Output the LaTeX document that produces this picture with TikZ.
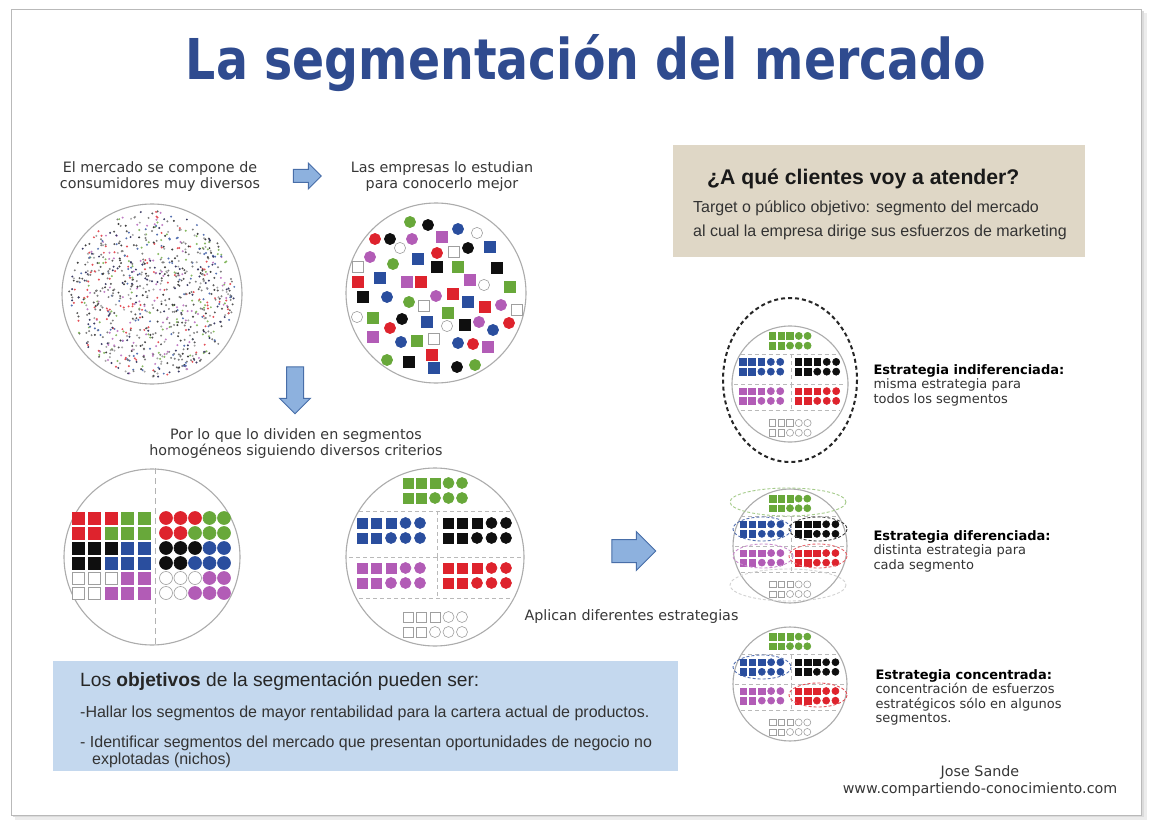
\documentclass[tikz,border=0pt]{standalone}
\usepackage{fontspec}
\usepackage{graphicx}
\setmainfont{DejaVu Sans}
\newfontfamily\arialf{Liberation Sans}
\usetikzlibrary{shapes.arrows}
\definecolor{segR}{RGB}{222,35,45}
\definecolor{segG}{RGB}{104,168,58}
\definecolor{segB}{RGB}{42,78,158}
\definecolor{segM}{RGB}{178,92,182}
\definecolor{segK}{RGB}{15,15,15}
\definecolor{segW}{RGB}{255,255,255}
\colorlet{segdR}{segR}
\colorlet{segdG}{segG}
\colorlet{segdB}{segB}
\colorlet{segdM}{segM}
\colorlet{segdK}{segK}
\colorlet{segdW}{gray!75}
\definecolor{titleblue}{RGB}{47,75,143}
\definecolor{arrowfill}{RGB}{141,177,222}
\definecolor{arrowdraw}{RGB}{72,110,168}
\definecolor{beige}{RGB}{223,215,198}
\definecolor{lightblue}{RGB}{196,216,238}
\definecolor{txt}{RGB}{55,55,55}
\colorlet{dot0}{black!75}
\definecolor{dot1}{RGB}{60,60,100}
\colorlet{dot2}{gray}
\colorlet{dot3}{segR!80}
\colorlet{dot4}{segG!80}
\colorlet{dot5}{segM!80}
\colorlet{dot6}{segB!80}
\colorlet{dot7}{black!50}
\colorlet{dot8}{black!65}
\colorlet{dot9}{gray!70}
\tikzset{
  cell/.style={fill=seg#1, draw=segd#1, line width=0.6pt},
  bigcircle/.style={circle, draw=gray!65, line width=1.1pt, inner sep=0pt},
  lbl/.style={font=\fontsize{14.3}{16}\selectfont, text=txt, align=center},
  blockarrow/.style={single arrow, draw=arrowdraw, fill=arrowfill, line width=1pt, single arrow head indent=0pt},
  sepline/.style={draw=gray!55, line width=0.8pt, dash pattern=on 4pt off 3pt},
  strtxt/.style={anchor=north west, align=left, text=gray!40!black, font=\fontsize{13}{14.5}\selectfont},
}
\newcommand\Sq[3]{\path[cell=#1] (#2,#3) +(-5.3,-5.3) rectangle +(5.3,5.3);}
\newcommand\Ci[3]{\path[cell=#1] (#2,#3) circle (5.6);}
\newcommand\grp[4]{%
  \foreach \qq in {0,1,2}{\path[cell=#1] ({#2+\qq*#4},#3) +(-5,-5) rectangle +(5,5);}%
  \foreach \qq in {3,4}{\path[cell=#1] ({#2+\qq*#4},#3) circle (5.5);}%
  \foreach \qq in {0,1}{\path[cell=#1] ({#2+\qq*#4},{#3+15}) +(-5,-5) rectangle +(5,5);}%
  \foreach \qq in {2,3,4}{\path[cell=#1] ({#2+\qq*#4},{#3+15}) circle (5.5);}%
}
\newcommand\segcontent{%
  \grp{G}{-27}{-74}{13.5}
  \grp{B}{-73}{-34}{14.5}
  \grp{K}{13}{-34}{14.5}
  \grp{M}{-73}{11}{14.5}
  \grp{R}{13}{11}{14.5}
  \grp{W}{-27}{60}{13.5}
  \draw[sepline] (-76,-46) -- (76,-46);
  \draw[sepline] (2,-46) -- (2,0);
  \draw[sepline] (-86,0) -- (86,0);
  \draw[sepline] (2,0) -- (2,41);
  \draw[sepline] (-76,41) -- (76,41);
}
\newcommand\sqrow[2]{\foreach \cl [count=\qq from 0] in {#2}{\path[cell=\cl] ({78+\qq*16.5},#1) +(-6,-6) rectangle +(6,6);}}
\newcommand\cirow[2]{\foreach \cl [count=\qq from 0] in {#2}{\path[cell=\cl] ({166+\qq*14.5},#1) circle (6.5);}}

\begin{document}
\begin{tikzpicture}[x=1pt,y=-1pt]
\useasboundingbox (0,0) rectangle (1151,821);
\fill[white] (0,0) rectangle (1151,821);
% page with shadow
\fill[gray!15] (15,13) rectangle (1147,820);
\fill[gray!28] (13,11) rectangle (1144,817);
\draw[gray!55, fill=white, line width=0.8pt] (11,9) rectangle (1141,815);

% title
\node[anchor=base, text=titleblue, inner sep=0pt] (title) at (586,80)
  {\resizebox{800pt}{45pt}{\bfseries La segmentación del mercado}};

% top labels and arrows
\node[lbl] (t1) at (160,177) {El mercado se compone de\\consumidores muy diversos};
\node[lbl] (t2) at (442,177) {Las empresas lo estudian\\para conocerlo mejor};
\node[blockarrow, minimum height=28pt, inner sep=6pt, single arrow head extend=6.5pt] (a1) at (304,176) {};

% circle 1: random consumers
\node[bigcircle, minimum size=180pt] (c1) at (152,294) {};
\pgfmathsetseed{4242}
\foreach \i in {1,...,900}{
  \pgfmathsetmacro\rr{83*sqrt(rnd)}
  \pgfmathsetmacro\aa{360*rnd}
  \pgfmathtruncatemacro\cc{floor(10*rnd)}
  \fill[dot\cc] (c1.center) ++(\aa:\rr) circle (1.1);
}

% circle 2: scattered shapes
\node[bigcircle, minimum size=180pt] (c2) at (436,293) {};
\Ci{G}{410}{222} \Ci{K}{428}{225} \Ci{B}{458}{229} \Ci{W}{477}{233}
\Ci{R}{375}{239} \Ci{K}{390}{239} \Ci{M}{412}{239} \Sq{M}{442}{237}
\Ci{W}{400}{248} \Ci{R}{437}{253} \Sq{W}{454}{252} \Ci{K}{468}{248} \Sq{B}{490}{247}
\Ci{M}{370}{257} \Ci{G}{393}{264} \Sq{B}{418}{259}
\Sq{W}{358}{267} \Sq{K}{437}{267} \Sq{G}{458}{267} \Sq{K}{497}{268}
\Sq{R}{358}{282} \Sq{B}{380}{278} \Sq{M}{407}{282} \Sq{R}{421}{282} \Sq{M}{470}{280} \Ci{W}{484}{285} \Sq{G}{510}{287}
\Sq{K}{363}{297} \Ci{B}{387}{297} \Ci{G}{409}{302} \Ci{M}{436}{296} \Sq{R}{453}{294} \Sq{B}{468}{302} \Sq{R}{485}{307} \Ci{M}{501}{305}
\Sq{W}{424}{306} \Sq{W}{517}{310}
\Ci{W}{357}{317} \Sq{G}{373}{318} \Ci{K}{402}{319} \Sq{G}{448}{313} \Sq{B}{427}{322}
\Ci{R}{390}{328} \Ci{W}{447}{326} \Sq{K}{465}{325} \Ci{M}{479}{322} \Ci{B}{493}{330} \Ci{R}{509}{323}
\Sq{M}{373}{337} \Ci{B}{401}{342} \Sq{G}{417}{341} \Sq{W}{434}{339} \Ci{B}{458}{343} \Ci{R}{473}{344} \Sq{M}{488}{347}
\Sq{R}{432}{355} \Ci{G}{387}{360} \Sq{K}{409}{362} \Sq{B}{434}{368} \Ci{K}{457}{367} \Ci{G}{475}{365}

% down arrow and label
\node[blockarrow, rotate=-90, minimum height=47pt, inner sep=8pt, single arrow head extend=7pt] (a2) at (295,386) {};
\node[lbl] (t3) at (296,444) {Por lo que lo dividen en segmentos\\homogéneos siguiendo diversos criterios};

% circle 3: sorted
\node[bigcircle, minimum size=176pt] (c3) at (152,557) {};
\draw[gray!60, line width=1pt, dash pattern=on 6pt off 4pt] ([xshift=3pt]c3.north) -- ([xshift=3pt]c3.south);
\sqrow{518}{R,R,R,G,G} \sqrow{533}{R,R,G,G,G} \sqrow{548}{K,K,K,B,B}
\sqrow{563}{K,K,B,B,B} \sqrow{578}{W,W,W,M,M} \sqrow{593}{W,W,M,M,M}
\cirow{518}{R,R,R,G,G} \cirow{533}{R,R,G,G,G} \cirow{548}{K,K,K,B,B}
\cirow{563}{K,K,B,B,B} \cirow{578}{W,W,W,M,M} \cirow{593}{W,W,M,M,M}

% circle 4: segments
\node[bigcircle, minimum size=178pt] (c4) at (435,557) {};
\begin{scope}[shift={(435,557)}]
  \segcontent
\end{scope}

% big arrow and label
\node[blockarrow, minimum height=44pt, inner sep=11pt, single arrow head extend=8pt] (a3) at (628,551) {};
\node[lbl, anchor=west] (t4) at (521,617) {Aplican diferentes estrategias};

% top right box
\node[fill=beige, minimum width=412pt, minimum height=112pt, anchor=north west, inner sep=0pt] (tbox) at (673,145) {};
\node[anchor=west, inner sep=0pt, font=\arialf\bfseries\fontsize{21.2}{23}\selectfont, text=black!90] (tq) at (707,179) {¿A qué clientes voy a atender?};
\node[anchor=west, inner sep=0pt, font=\arialf\fontsize{16}{18}\selectfont, text=black!80] (tl1) at (693,208) {Target o público objetivo: segmento del mercado};
\node[anchor=west, inner sep=0pt, font=\arialf\fontsize{16}{18}\selectfont, text=black!80] (tl2) at (693,232) {al cual la empresa dirige sus esfuerzos de marketing};

% strategy 1
\draw[black!85, line width=2pt, dash pattern=on 4pt off 3pt] (790,380) ellipse (67 and 82);
\node[bigcircle, minimum size=116pt] (s1) at (790,384) {};
\begin{scope}[shift={(790,384)}, scale=0.65]
  \segcontent
\end{scope}
\node[strtxt] (s1t) at (870,361) {\textcolor{black}{\bfseries Estrategia indiferenciada:}\\misma estrategia para\\todos los segmentos};

% strategy 2
\node[bigcircle, minimum size=114pt] (s2) at (790,546) {};
\begin{scope}[shift={(790,546)}, scale=0.64]
  \segcontent
\end{scope}
\begin{scope}[line width=0.9pt, dash pattern=on 3pt off 2pt]
  \draw[segG!60] (788,502) ellipse (58 and 14);
  \draw[segB!80] (762,529) ellipse (29 and 12);
  \draw[segK!80] (818,529) ellipse (29 and 12);
  \draw[segM!70] (763,556) ellipse (30 and 12);
  \draw[segR!70] (818,556) ellipse (29 and 12);
  \draw[gray!35] (788,585) ellipse (58 and 16);
\end{scope}
\node[strtxt] (s2t) at (870,527) {\textcolor{black}{\bfseries Estrategia diferenciada:}\\distinta estrategia para\\cada segmento};

% strategy 3
\node[bigcircle, minimum size=114pt] (s3) at (790,684) {};
\begin{scope}[shift={(790,684)}, scale=0.64]
  \segcontent
\end{scope}
\begin{scope}[line width=0.9pt, dash pattern=on 3pt off 2pt]
  \draw[segB!80] (762,667) ellipse (29 and 12);
  \draw[segR!80] (818,695) ellipse (29 and 12);
\end{scope}
\node[strtxt] (s3t) at (872,666) {\textcolor{black}{\bfseries Estrategia concentrada:}\\concentración de esfuerzos\\estratégicos sólo en algunos\\segmentos.};

% objectives box
\node[fill=lightblue, minimum width=625pt, minimum height=110pt, anchor=north west, inner sep=0pt] (obox) at (53,661) {};
\node[anchor=west, inner sep=0pt, font=\arialf\fontsize{19.2}{21}\selectfont, text=black!85] (o1) at (80,681) {Los \textbf{objetivos} de la segmentación pueden ser:};
\node[anchor=west, inner sep=0pt, font=\arialf\fontsize{16}{18}\selectfont, text=black!80] (o2) at (80,713) {-Hallar los segmentos de mayor rentabilidad para la cartera actual de productos.};
\node[anchor=west, inner sep=0pt, font=\arialf\fontsize{16}{18}\selectfont, text=black!80] (o3) at (80,743) {- Identificar segmentos del mercado que presentan oportunidades de negocio no};
\node[anchor=west, inner sep=0pt, font=\arialf\fontsize{16}{18}\selectfont, text=black!80] (o4) at (92,760) {explotadas (nichos)};

% credits
\node[lbl, font=\fontsize{14.3}{17}\selectfont] (cred) at (980,781) {Jose Sande\\www.compartiendo-conocimiento.com};
\end{tikzpicture}
\end{document}
